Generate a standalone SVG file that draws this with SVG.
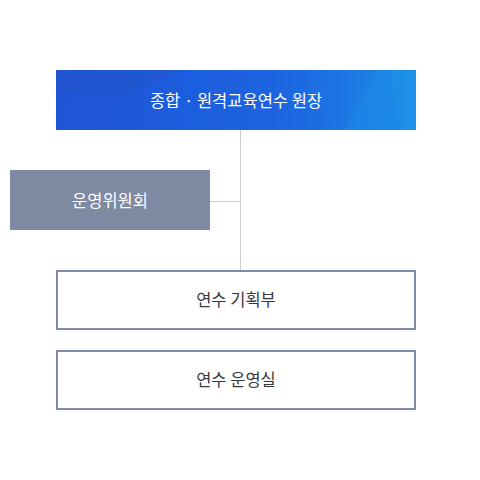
<svg xmlns="http://www.w3.org/2000/svg" width="480" height="480" viewBox="0 0 480 480">
<defs>
<linearGradient id="bg" x1="0" y1="0" x2="1" y2="0">
<stop offset="0" stop-color="#1d55d6"/>
<stop offset="0.6" stop-color="#1d63e0"/>
<stop offset="1" stop-color="#1b8ae6"/>
</linearGradient>
<clipPath id="cp"><rect x="56" y="70" width="360" height="60"/></clipPath>
</defs>
<style>
.t{font-family:"Noto Sans CJK KR","Noto Sans",sans-serif;font-size:16.5px;font-weight:400;text-anchor:middle;dominant-baseline:central}
.w{fill:#ffffff}
.d{fill:#383838}
.ob{fill:#ffffff;stroke:#7d8aa1;stroke-width:2}
.ln{stroke:#cccccc;stroke-width:1;fill:none}
</style>
<rect width="480" height="480" fill="#ffffff"/>
<g id="connectors">
<line class="ln" x1="240.5" y1="130" x2="240.5" y2="270"/>
<line class="ln" x1="210" y1="201.5" x2="240.5" y2="201.5"/>
</g>
<g id="director">
<rect x="56" y="70" width="360" height="60" fill="url(#bg)"/>
<g clip-path="url(#cp)">
<polygon points="56,70 180,70 120,100 56,90" fill="#2a4fc4" opacity="0.35"/>
<polygon points="180,70 210,70 195,130 170,130" fill="#1a5ee0" opacity="0.4"/>
<polygon points="56,100 130,95 110,130 56,130" fill="#2759d8" opacity="0.3"/>
<polygon points="300,70 330,130 280,130" fill="#1c6ae6" opacity="0.35"/>
<polygon points="378,70 416,70 416,130 345,130" fill="#1c8ae8" opacity="0.6"/>
<polygon points="390,70 400,130 416,130 416,70" fill="#2098ea" opacity="0.4"/>
</g>
<text class="t w" x="236" y="100">종합 · 원격교육연수 원장</text>
</g>
<g id="committee">
<rect x="10" y="170" width="200" height="60" fill="#7d8aa1"/>
<text class="t w" x="110" y="200">운영위원회</text>
</g>
<g id="planning">
<rect class="ob" x="57" y="271" width="358" height="58"/>
<text class="t d" x="236" y="299">연수 기획부</text>
</g>
<g id="operations">
<rect class="ob" x="57" y="351" width="358" height="58"/>
<text class="t d" x="236" y="379">연수 운영실</text>
</g>
</svg>
